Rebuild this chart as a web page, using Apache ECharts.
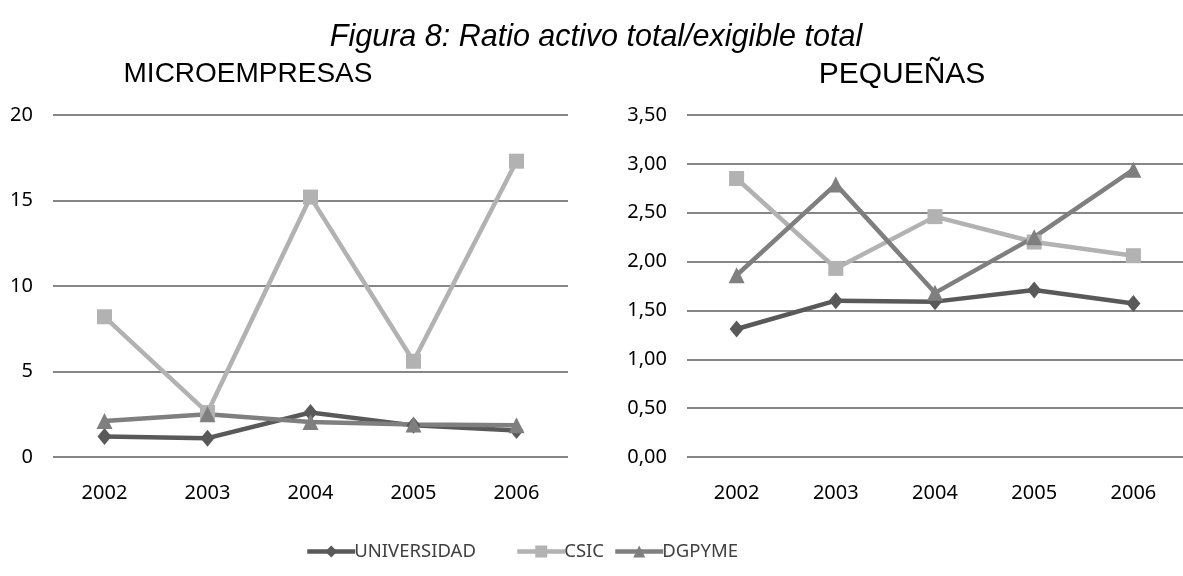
<!DOCTYPE html>
<html>
<head>
<meta charset="utf-8">
<script src="https://cdn.jsdelivr.net/npm/echarts@6/dist/echarts.min.js"></script>
<style>
  html, body { margin: 0; padding: 0; background: #ffffff; }
  #chart { width: 1183px; height: 576px; }
</style>
</head>
<body>
<div id="chart"></div>
<script>
// Years on the horizontal axis of both panels
const years = ['2002', '2003', '2004', '2005', '2006'];

// Series names
const seriesNames = ['UNIVERSIDAD', 'CSIC', 'DGPYME'];

// MICROEMPRESAS panel
const microUniversidad = [1.2, 1.1, 2.6, 1.85, 1.55];
const microCsic = [8.2, 2.6, 15.2, 5.6, 17.3];
const microDgpyme = [2.1, 2.5, 2.05, 1.9, 1.85];

// PEQUEÑAS panel
const pequUniversidad = [1.31, 1.60, 1.59, 1.71, 1.57];
const pequCsic = [2.85, 1.93, 2.46, 2.20, 2.06];
const pequDgpyme = [1.86, 2.79, 1.68, 2.25, 2.94];

const lineColors = { UNIVERSIDAD: '#595959', CSIC: '#b2b2b2', DGPYME: '#7f7f7f' };
const symbols = { UNIVERSIDAD: 'diamond', CSIC: 'rect', DGPYME: 'triangle' };
const symbolSizes = { UNIVERSIDAD: [14, 17], CSIC: [15, 15], DGPYME: [16, 16] };

const tickFont = '"Noto Sans", sans-serif';

function makeSeries(name, data, axisIndex) {
  return {
    name: name,
    type: 'line',
    data: data,
    xAxisIndex: axisIndex,
    yAxisIndex: axisIndex,
    symbol: symbols[name],
    symbolSize: symbolSizes[name],
    showAllSymbol: true,
    animation: false,
    lineStyle: { color: lineColors[name], width: 4.5 },
    itemStyle: { color: lineColors[name] },
    emphasis: { disabled: true }
  };
}

function xAxis(gridIndex) {
  return {
    type: 'category',
    gridIndex: gridIndex,
    data: years,
    boundaryGap: true,
    axisLine: { show: false },
    axisTick: { show: false },
    axisLabel: { color: '#000', fontFamily: tickFont, fontSize: 20, margin: 26 }
  };
}

function yAxis(gridIndex, max, interval, formatter) {
  return {
    type: 'value',
    gridIndex: gridIndex,
    min: 0,
    max: max,
    interval: interval,
    axisLine: { show: false },
    axisTick: { show: false },
    splitLine: { lineStyle: { color: '#868686', width: 2 } },
    axisLabel: { color: '#000', fontFamily: tickFont, fontSize: 20, margin: 20, formatter: formatter }
  };
}

// One legend per entry so each can sit at its own position
function legendItem(name, left) {
  return {
    data: [name],
    left: left,
    top: 542,
    padding: 0,
    itemWidth: 48,
    itemHeight: 15,
    selectedMode: false,
    lineStyle: { width: 4.5 },
    textStyle: { fontFamily: tickFont, fontSize: 18.5, color: '#404040', padding: [0, 0, 0, -6] }
  };
}

const chart = echarts.init(document.getElementById('chart'), null, { renderer: 'canvas' });

chart.setOption({
  backgroundColor: '#ffffff',
  animation: false,
  title: [
    {
      text: 'Figura 8: Ratio activo total/exigible total',
      left: 591, top: 18, textAlign: 'center',
      textStyle: { fontFamily: 'Liberation Sans, Arial, sans-serif', fontStyle: 'italic', fontWeight: 'normal', fontSize: 30.5, color: '#000' }
    },
    {
      text: 'MICROEMPRESAS',
      left: 243, top: 55, textAlign: 'center',
      textStyle: { fontFamily: 'Liberation Sans, Arial, sans-serif', fontWeight: 'normal', fontSize: 28, color: '#000' }
    },
    {
      text: 'PEQUEÑAS',
      left: 897, top: 55, textAlign: 'center',
      textStyle: { fontFamily: 'Liberation Sans, Arial, sans-serif', fontWeight: 'normal', fontSize: 30, color: '#000' }
    }
  ],
  legend: [
    legendItem('UNIVERSIDAD', 305),
    legendItem('CSIC', 515),
    legendItem('DGPYME', 613)
  ],
  grid: [
    { left: 53, top: 115, width: 515, height: 342, containLabel: false },
    { left: 687, top: 115, width: 501, height: 342, containLabel: false }
  ],
  xAxis: [xAxis(0), xAxis(1)],
  yAxis: [
    yAxis(0, 20, 5, v => String(v)),
    yAxis(1, 3.5, 0.5, v => v.toFixed(2).replace('.', ','))
  ],
  series: [
    makeSeries('UNIVERSIDAD', microUniversidad, 0),
    makeSeries('CSIC', microCsic, 0),
    makeSeries('DGPYME', microDgpyme, 0),
    makeSeries('UNIVERSIDAD', pequUniversidad, 1),
    makeSeries('CSIC', pequCsic, 1),
    makeSeries('DGPYME', pequDgpyme, 1)
  ]
});
</script>
</body>
</html>
